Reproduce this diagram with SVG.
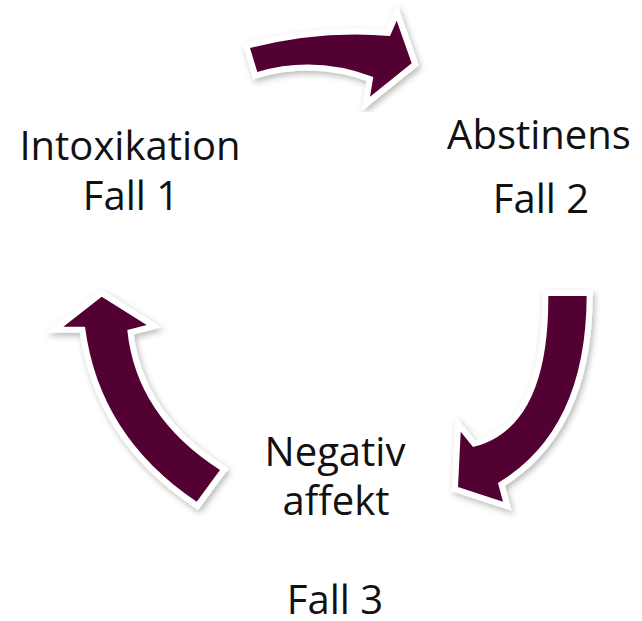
<svg xmlns="http://www.w3.org/2000/svg" width="642" height="621" viewBox="0 0 642 621">
<defs>
<filter id="sh" x="-20%" y="-20%" width="140%" height="140%">
<feDropShadow dx="2" dy="3" stdDeviation="3" flood-color="#000" flood-opacity="0.28"/>
</filter>
<style>
.lbl{font-family:"Open Sans","Liberation Sans",sans-serif;font-size:40px;fill:#111;text-anchor:middle}
.arr{fill:#530333;stroke:#fff;stroke-width:12;stroke-linejoin:miter;stroke-miterlimit:4;paint-order:stroke fill;filter:url(#sh)}
</style>
</defs>
<rect width="642" height="621" fill="#fff"/>
<g id="connectors">
<path class="arr" d="M250,48 Q320,30 390,36 L396.7,20.7 L411.7,63.3 L370,96.7 L373.3,77 Q314.7,55 257.3,72 Z"/>
<path class="arr" d="M548.3,296 L586.7,296 Q586,430 498,483 L503,501.7 L458,487 L460.7,431.7 L473,447 Q549,428 548.3,296 Z"/>
<path class="arr" d="M101.7,296.7 L146.7,325 L127.3,330 Q136,416 220,470 L196.7,501.7 Q99,436 85,326.7 L63.3,326.7 Z"/>
</g>
<g id="node-intoxikation">
<text class="lbl" x="130" y="160">Intoxikation</text>
<text class="lbl" x="131" y="210">Fall 1</text>
</g>
<g id="node-abstinens">
<text class="lbl" x="539" y="149">Abstinens</text>
<text class="lbl" x="541" y="213">Fall 2</text>
</g>
<g id="node-negativ">
<text class="lbl" x="335" y="466">Negativ</text>
<text class="lbl" x="336" y="515">affekt</text>
<text class="lbl" x="335" y="614">Fall 3</text>
</g>
</svg>
